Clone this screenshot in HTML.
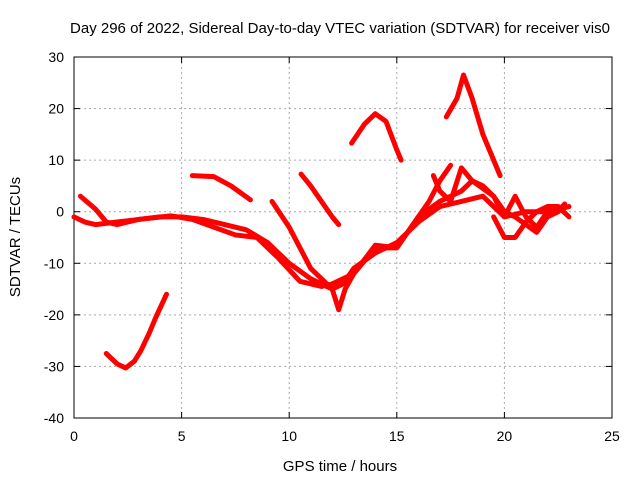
<!DOCTYPE html>
<html><head><meta charset="utf-8"><style>
body{margin:0;background:#fff;}
svg{display:block;font-family:"Liberation Sans",sans-serif;}
</style></head><body>
<svg id="chart" width="640" height="480" viewBox="0 0 640 480">
<rect width="640" height="480" fill="#fff"/>
<text x="340" y="33" font-size="15" text-anchor="middle">Day 296 of 2022, Sidereal Day-to-day VTEC variation (SDTVAR) for receiver vis0</text>
<g id="grid"></g>
<g id="axes"></g>
<g id="series"></g>
<text x="340" y="471" font-size="15" text-anchor="middle">GPS time / hours</text>
<text transform="translate(20,237) rotate(-90)" font-size="15" text-anchor="middle">SDTVAR / TECUs</text>
</svg>
<script>
const xTicks=[0,5,10,15,20,25];
const yTicks=[30,20,10,0,-10,-20,-30,-40];
const seg1=[[1.5,-27.5],[2.0,-29.5],[2.4,-30.3],[2.8,-29],[3.1,-27],[3.5,-23.5],[3.8,-20.5],[4.3,-16]];
const seg2=[[0,-1],[0.5,-2],[1,-2.5],[2,-2],[3,-1.5],[4,-1],[5,-1],[6,-1.5],[7,-2.5],[8,-3.5],[9,-6],[10,-10],[11,-13],[12,-15],[12.5,-14],[13,-11],[14,-8],[15,-6],[16,-2],[17,1],[18,2],[19,3],[20,-1],[21,0],[22,0],[23,1]];
const seg3=[[0.3,3],[1,0.5],[1.5,-2],[2,-2.5],[3,-1.5],[4.5,-0.8],[5.5,-1.5],[6.5,-3],[7.5,-4.5],[8.5,-5],[9.5,-9],[10.5,-13.5],[11.5,-14.5],[12,-14],[12.5,-13],[13,-12],[14,-7],[15,-7],[15.5,-4],[16,-1],[16.5,2],[17,6],[17.5,9]];
const seg4=[[9.2,2],[10,-3],[10.5,-7],[11,-11],[11.5,-13],[12,-15],[12.3,-19],[12.6,-15],[13,-12],[14,-6.5],[15,-7],[16,-1],[17,2],[18,4],[18.5,6],[19,4.5],[19.5,3],[20,0],[20.5,-1],[21,-2.5],[21.5,-4],[22,-1],[22.5,0],[22.8,1.5]];
const seg5=[[5.5,7],[6.5,6.8],[7.3,5],[8.2,2.3]];
const seg6=[[10.55,7.3],[11,5],[11.5,2],[12,-1],[12.3,-2.5]];
const seg7=[[12.9,13.3],[13.5,17],[14,19],[14.5,17.5],[15,12],[15.2,10]];
const seg8=[[17.3,18.4],[17.8,22],[18.1,26.5],[18.5,22],[19,15],[19.5,10],[19.8,7]];
const seg9=[[19.5,-1],[20,-5],[20.5,-5],[21,-2],[21.5,0],[22,1],[22.5,1],[23,-1]];
const seg10=[[16.7,7],[17,4],[17.5,2],[18,8.5],[18.5,6],[19,5],[19.5,3],[20,-1],[20.5,3],[21,-1],[21.5,-3],[22,0],[22.7,1]];
const allSeries=[seg1,seg2,seg3,seg4,seg5,seg6,seg7,seg8,seg9,seg10];
const X0=74,X1=612,Y0=57,Y1=418;
const sx=v=>X0+(v-0)/25*(X1-X0);
const sy=v=>Y0+(30-v)/70*(Y1-Y0);
const NS="http://www.w3.org/2000/svg";
function mk(t,a,p){const e=document.createElementNS(NS,t);for(const k in a)e.setAttribute(k,a[k]);p.appendChild(e);return e;}
const grid=document.getElementById('grid'),axes=document.getElementById('axes'),ser=document.getElementById('series');
xTicks.forEach(t=>{
 if(t>0&&t<25){const l=mk('line',{x1:sx(t),x2:sx(t),y1:Y0,y2:Y1,stroke:'#aaa','stroke-dasharray':'2,3'},grid);
 }
 const tk=mk('line',{x1:sx(t),x2:sx(t),y1:Y1,y2:Y1-6,stroke:'#000'},axes);
 
 const tk2=mk('line',{x1:sx(t),x2:sx(t),y1:Y0,y2:Y0+6,stroke:'#000'},axes);
 
 const tx=mk('text',{x:sx(t),y:Y1+23,'font-size':14,'text-anchor':'middle'},axes);tx.textContent=t;
 
});
yTicks.forEach(t=>{
 if(t<30&&t>-40){const l=mk('line',{x1:X0,x2:X1,y1:sy(t),y2:sy(t),stroke:'#aaa','stroke-dasharray':'2,3'},grid);
 }
 const tk=mk('line',{x1:X0,x2:X0+6,y1:sy(t),y2:sy(t),stroke:'#000'},axes);
 
 const tk2=mk('line',{x1:X1,x2:X1-6,y1:sy(t),y2:sy(t),stroke:'#000'},axes);
 
 const tx=mk('text',{x:X0-10,y:sy(t)+5,'font-size':14,'text-anchor':'end'},axes);tx.textContent=t;
 
});
const fr=mk('rect',{x:X0,y:Y0,width:X1-X0,height:Y1-Y0,fill:'none',stroke:'#000'},axes);

allSeries.forEach(s=>{
 const pl=mk('polyline',{points:s.map(p=>sx(p[0])+','+sy(p[1])).join(' '),fill:'none',stroke:'#f00','stroke-width':5,'stroke-linejoin':'round','stroke-linecap':'round'},ser);
 
});
</script>
</body></html>
